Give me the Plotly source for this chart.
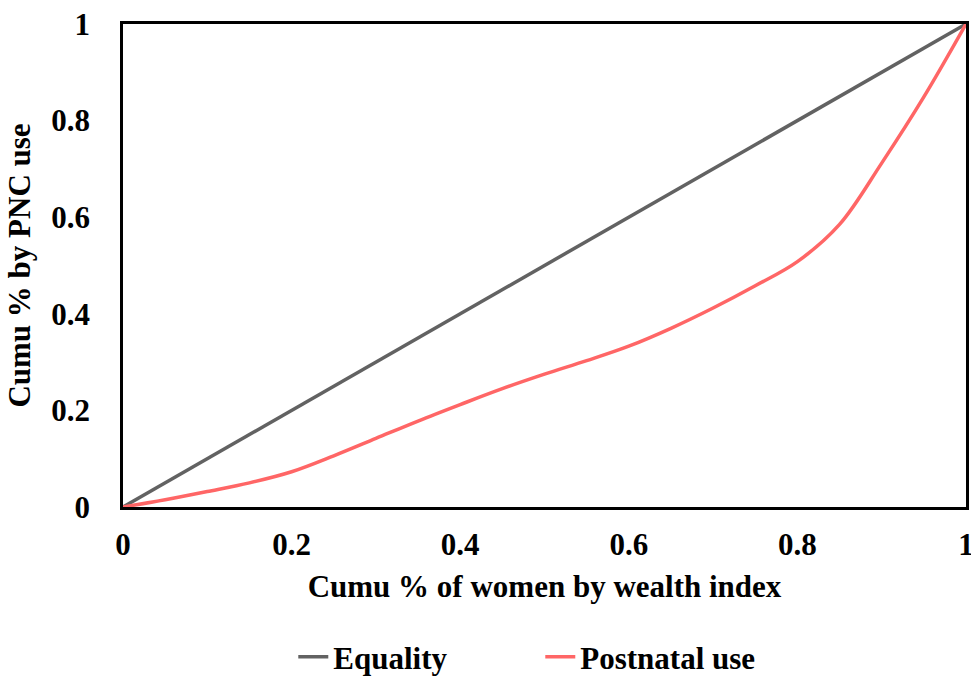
import plotly.graph_objects as go

eq_x = [0, 1]
eq_y = [0, 1]

pnc_x = [0, 0.05, 0.1, 0.15, 0.2, 0.25, 0.3, 0.35, 0.4, 0.45, 0.5, 0.55, 0.6,
         0.65, 0.7, 0.75, 0.8, 0.85, 0.9, 0.95, 1]
pnc_y = [0, 0.015, 0.032, 0.05, 0.073, 0.106, 0.142, 0.178, 0.212, 0.245, 0.275,
         0.303, 0.333, 0.37, 0.412, 0.458, 0.508, 0.585, 0.712, 0.849, 1]

tick_vals = [0, 0.2, 0.4, 0.6, 0.8, 1]
tick_text = ["0", "0.2", "0.4", "0.6", "0.8", "1"]

FONT = "Liberation Serif, Times New Roman, serif"

fig = go.Figure()
fig.add_trace(go.Scatter(x=eq_x, y=eq_y, mode="lines", name="Equality",
                         line=dict(color="#626262", width=3.5)))
fig.add_trace(go.Scatter(x=pnc_x, y=pnc_y, mode="lines", name="Postnatal use",
                         line=dict(color="#FF6666", width=3.5, shape="spline", smoothing=1.0)))

fig.update_layout(
    width=971, height=677,
    margin=dict(l=123, r=5, t=24, b=170, autoexpand=False),
    paper_bgcolor="white", plot_bgcolor="white",
    font=dict(family=FONT, size=31, color="black", weight="bold"),
    showlegend=True,
    legend=dict(orientation="h", x=0.202, xanchor="left", y=-0.311, yanchor="middle",
                font=dict(family=FONT, size=31, color="black", weight="bold"),
                entrywidth=202, entrywidthmode="pixels", bgcolor="rgba(0,0,0,0)"),
    xaxis=dict(range=[0, 1], tickvals=tick_vals, ticktext=tick_text,
               showgrid=False, zeroline=False, showline=True, linecolor="black",
               linewidth=2.5, mirror=True, ticks="", ticklabelstandoff=8,
               ticklabeloverflow="allow", automargin=False,
               tickfont=dict(family=FONT, size=31, weight="bold"),
               title=dict(text="Cumu % of women by wealth index", standoff=15,
                          font=dict(family=FONT, size=31, weight="bold"))),
    yaxis=dict(range=[0, 1], tickvals=tick_vals, ticktext=tick_text,
               showgrid=False, zeroline=False, showline=True, linecolor="black",
               linewidth=2.5, mirror=True, ticks="", ticklabelstandoff=24,
               ticklabeloverflow="allow", automargin=False,
               tickfont=dict(family=FONT, size=31, weight="bold"),
               title=dict(text="Cumu % by PNC use", standoff=12,
                          font=dict(family=FONT, size=31, weight="bold"))),
)

fig.write_html("out.html", config={"displayModeBar": False},
               post_script="document.body.style.margin='0';document.body.style.overflow='hidden';")
